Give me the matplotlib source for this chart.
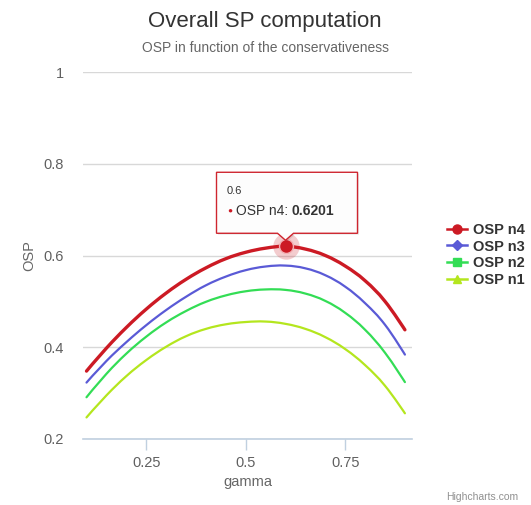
import matplotlib
matplotlib.use("Agg")
import matplotlib.pyplot as plt
from matplotlib.lines import Line2D
from matplotlib.patches import Polygon, PathPatch
from matplotlib.path import Path

plt.rcParams['font.family'] = ['Liberation Sans', 'DejaVu Sans']

gamma = [0.10, 0.15, 0.20, 0.25, 0.30, 0.35, 0.40, 0.45, 0.50,
         0.55, 0.60, 0.65, 0.70, 0.75, 0.80, 0.85, 0.90]
osp_n4 = [0.348, 0.398, 0.443, 0.483, 0.518, 0.548, 0.573, 0.593, 0.607,
          0.616, 0.6201, 0.614, 0.600, 0.577, 0.545, 0.500, 0.438]
osp_n3 = [0.323, 0.370, 0.411, 0.448, 0.481, 0.510, 0.535, 0.554, 0.568,
          0.576, 0.578, 0.572, 0.557, 0.532, 0.496, 0.449, 0.384]
osp_n2 = [0.291, 0.342, 0.386, 0.423, 0.454, 0.479, 0.499, 0.513, 0.522,
          0.526, 0.525, 0.517, 0.501, 0.475, 0.438, 0.388, 0.324]
osp_n1 = [0.247, 0.295, 0.337, 0.372, 0.401, 0.424, 0.440, 0.450, 0.455,
          0.456, 0.451, 0.440, 0.422, 0.396, 0.361, 0.316, 0.256]

series_names = ['OSP n4', 'OSP n3', 'OSP n2', 'OSP n1']
series_vals = [osp_n4, osp_n3, osp_n2, osp_n1]
colors = ['#cc1a24', '#5a5ad6', '#33dd55', '#b4e61e']
markers = ['o', 'D', 's', '^']
widths = [2.4, 1.6, 1.6, 1.6]

x_ticks = [0.25, 0.5, 0.75]
x_tick_labels = ['0.25', '0.5', '0.75']
y_ticks = [0.2, 0.4, 0.6, 0.8, 1.0]
y_tick_labels = ['0.2', '0.4', '0.6', '0.8', '1']

tip_x, tip_y = 0.6, 0.6201


def spline_path(xs, ys, smoothing=1.5):
    """Highcharts-style spline through the data points (cubic Bezier)."""
    denom = smoothing + 1
    n = len(xs)
    lc = [(xs[i], ys[i]) for i in range(n)]
    rc = [(xs[i], ys[i]) for i in range(n)]
    for i in range(1, n - 1):
        px_, py_ = xs[i], ys[i]
        lx, ly = xs[i - 1], ys[i - 1]
        nx, ny = xs[i + 1], ys[i + 1]
        lcx = (smoothing * px_ + lx) / denom
        lcy = (smoothing * py_ + ly) / denom
        rcx = (smoothing * px_ + nx) / denom
        rcy = (smoothing * py_ + ny) / denom
        if rcx != lcx:
            corr = ((rcy - lcy) * (rcx - px_)) / (rcx - lcx) + py_ - rcy
            lcy += corr
            rcy += corr
        lc[i] = (lcx, lcy)
        rc[i] = (rcx, rcy)
    verts = [(xs[0], ys[0])]
    codes = [Path.MOVETO]
    for i in range(1, n):
        verts += [rc[i - 1], lc[i], (xs[i], ys[i])]
        codes += [Path.CURVE4] * 3
    return Path(verts, codes)


W, H = 531, 505
fig = plt.figure(figsize=(W / 100, H / 100), dpi=100)
ax = fig.add_axes([83 / W, (H - 439) / H, 329 / W, 367 / H])

for name, vals, c, lw in zip(series_names, series_vals, colors, widths):
    patch = PathPatch(spline_path(gamma, vals), fc='none', ec=c, lw=lw,
                      capstyle='round', joinstyle='round', zorder=3)
    ax.add_patch(patch)

ax.set_xlim(0.0912, 0.9178)
ax.set_ylim(0.2, 1.0)
ax.set_xticks(x_ticks)
ax.set_xticklabels(x_tick_labels)
ax.set_yticks(y_ticks)
ax.set_yticklabels(y_tick_labels)
ax.grid(axis='y', color='#d8d8d8', lw=1)
ax.set_axisbelow(True)
for s in ['top', 'right', 'left']:
    ax.spines[s].set_visible(False)
ax.spines['bottom'].set_color('#c0d0e0')
ax.spines['bottom'].set_linewidth(1.2)
ax.tick_params(axis='x', colors='#c0d0e0', length=8, width=1, labelcolor='#606060',
               labelsize=10.5, pad=4)
ax.tick_params(axis='y', length=0, labelcolor='#606060', labelsize=10.5, pad=14)
ax.set_xlabel('gamma', color='#666666', fontsize=10.5, labelpad=4)
ax.set_ylabel('OSP', color='#666666', fontsize=10.5, labelpad=5)

# hover marker
ax.plot([tip_x], [tip_y], 'o', ms=19, color=colors[0], alpha=0.22, mec='none', zorder=4)
ax.plot([tip_x], [tip_y], 'o', ms=10, color=colors[0], mec='#f3b0b4', mew=1, zorder=5)

# tooltip
fig.canvas.draw()
px, py = ax.transData.transform((tip_x, tip_y))
left, right, bottom, top = px - 69, px + 72, py + 13, py + 74
poly = [(left, bottom), (px - 8, bottom), (px, py + 6), (px + 8, bottom),
        (right, bottom), (right, top), (left, top)]
inv = fig.transFigure.inverted()
poly_fig = [inv.transform(p) for p in poly]
shadow = Polygon([(x + 1.5 / W, y - 1.5 / H) for x, y in poly_fig], closed=True,
                 transform=fig.transFigure, fc='#000000', ec='none', alpha=0.08, zorder=9)
fig.patches.append(shadow)
tip = Polygon(poly_fig, closed=True, transform=fig.transFigure,
              fc='#ffffff', ec='#cc1a24', lw=1, alpha=0.95, zorder=10)
fig.patches.append(tip)
tx, ty = inv.transform((left + 10, py + 55))
fig.text(tx, ty, '0.6', fontsize=8, color='#333333', va='center', ha='left', zorder=11)
bx, by = inv.transform((left + 13, py + 35))
fig.text(bx, by, '●', fontsize=6, color=colors[0], va='center', ha='center', zorder=11)
lx, ly = inv.transform((left + 19, py + 35))
t1 = fig.text(lx, ly, 'OSP n4: ', fontsize=10, color='#333333', va='center', ha='left', zorder=11)
fig.canvas.draw()
bb = t1.get_window_extent()
vx, vy = inv.transform((bb.x1, py + 35))
fig.text(vx, vy, '0.6201', fontsize=10, color='#333333', fontweight='bold',
         va='center', ha='left', zorder=11)

# titles
fig.text(265 / W, 1 - 21 / H, 'Overall SP computation', fontsize=16, color='#333333',
         ha='center', va='center')
fig.text(265 / W, 1 - 48 / H, 'OSP in function of the conservativeness', fontsize=10,
         color='#666666', ha='center', va='center')
fig.text(518 / W, 1 - 497 / H, 'Highcharts.com', fontsize=7.5, color='#909090',
         ha='right', va='center')

# legend
handles = [Line2D([], [], color=c, lw=1.8, marker=m, ms=6.5 if m == 'o' else 5.5, mec=c)
           for c, m in zip(colors, markers)]
leg = fig.legend(handles, series_names, loc='center left',
                 bbox_to_anchor=(447 / W, 1 - 255 / H), frameon=False,
                 prop={'weight': 'bold', 'size': 10.5}, handlelength=1.4,
                 handletextpad=0.4, labelspacing=0.2, borderaxespad=0, borderpad=0)
for t in leg.get_texts():
    t.set_color('#333333')

fig.savefig('out.png', dpi=100)
